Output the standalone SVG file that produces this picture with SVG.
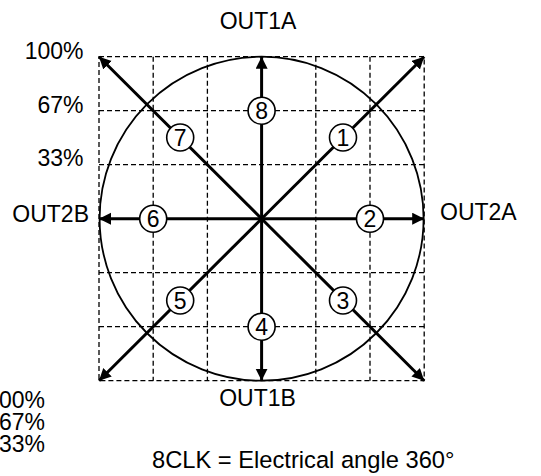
<svg xmlns="http://www.w3.org/2000/svg" width="541" height="476" viewBox="0 0 541 476">
<style>
text{font-family:"Liberation Sans",Arial,Helvetica,sans-serif;font-size:23px;fill:#000}
.grid{stroke:#000;stroke-width:1.3;stroke-dasharray:5,3;fill:none}
.arr{stroke:#000;stroke-width:3;fill:none;marker-end:url(#ah)}
.num circle{fill:#fff;stroke:#000;stroke-width:1.6}
.num text{text-anchor:middle}
</style>
<defs>
<marker id="ah" markerUnits="userSpaceOnUse" markerWidth="14" markerHeight="14" refX="12" refY="6" orient="auto">
<path d="M0,0 L12,6 L0,12 z" fill="#000"/>
</marker>
</defs>
<g id="grid">
<rect class="grid" x="99" y="56.7" width="325.2" height="324"/>
<path class="grid" d="M153.2,56.7V380.7M207.4,56.7V380.7M315.8,56.7V380.7M370,56.7V380.7M99,110.7H424.2M99,164.7H424.2M99,272.7H424.2M99,326.7H424.2"/>
</g>
<g id="circle"><circle cx="261.6" cy="218.7" r="162" fill="none" stroke="#000" stroke-width="1.8"/></g>
<g id="connectors">
<line class="arr" x1="261.6" y1="218.7" x2="424.2" y2="56.7"/>
<line class="arr" x1="261.6" y1="218.7" x2="424.2" y2="218.7"/>
<line class="arr" x1="261.6" y1="218.7" x2="424.2" y2="380.7"/>
<line class="arr" x1="261.6" y1="218.7" x2="261.6" y2="380.7"/>
<line class="arr" x1="261.6" y1="218.7" x2="99" y2="380.7"/>
<line class="arr" x1="261.6" y1="218.7" x2="99" y2="218.7"/>
<line class="arr" x1="261.6" y1="218.7" x2="99" y2="56.7"/>
<line class="arr" x1="261.6" y1="218.7" x2="261.6" y2="56.7"/>
</g>
<g id="n1" class="num"><circle cx="343" cy="137.5" r="13.5"/><text x="343" y="146">1</text></g>
<g id="n2" class="num"><circle cx="370" cy="218.7" r="13.5"/><text x="370" y="227.2">2</text></g>
<g id="n3" class="num"><circle cx="343" cy="300.5" r="13.5"/><text x="343" y="309">3</text></g>
<g id="n4" class="num"><circle cx="261.6" cy="326.7" r="13.5"/><text x="261.6" y="335.2">4</text></g>
<g id="n5" class="num"><circle cx="180.2" cy="300.5" r="13.5"/><text x="180.2" y="309">5</text></g>
<g id="n6" class="num"><circle cx="153.2" cy="218.7" r="13.5"/><text x="153.2" y="227.2">6</text></g>
<g id="n7" class="num"><circle cx="180.2" cy="137.5" r="13.5"/><text x="180.2" y="146">7</text></g>
<g id="n8" class="num"><circle cx="261.6" cy="110.7" r="13.5"/><text x="261.6" y="119.2">8</text></g>
<g id="labels">
<text x="258" y="29" text-anchor="middle">OUT1A</text>
<text x="257.5" y="406" text-anchor="middle">OUT1B</text>
<text x="440" y="220">OUT2A</text>
<text x="89" y="221.5" text-anchor="end">OUT2B</text>
<text x="83.5" y="59" text-anchor="end">100%</text>
<text x="83.5" y="113" text-anchor="end">67%</text>
<text x="83.5" y="166" text-anchor="end">33%</text>
<text x="45" y="408" text-anchor="end">100%</text>
<text x="45" y="430" text-anchor="end">67%</text>
<text x="45" y="452" text-anchor="end">33%</text>
<text x="152" y="468" style="font-size:23.7px">8CLK = Electrical angle 360°</text>
</g>
</svg>
